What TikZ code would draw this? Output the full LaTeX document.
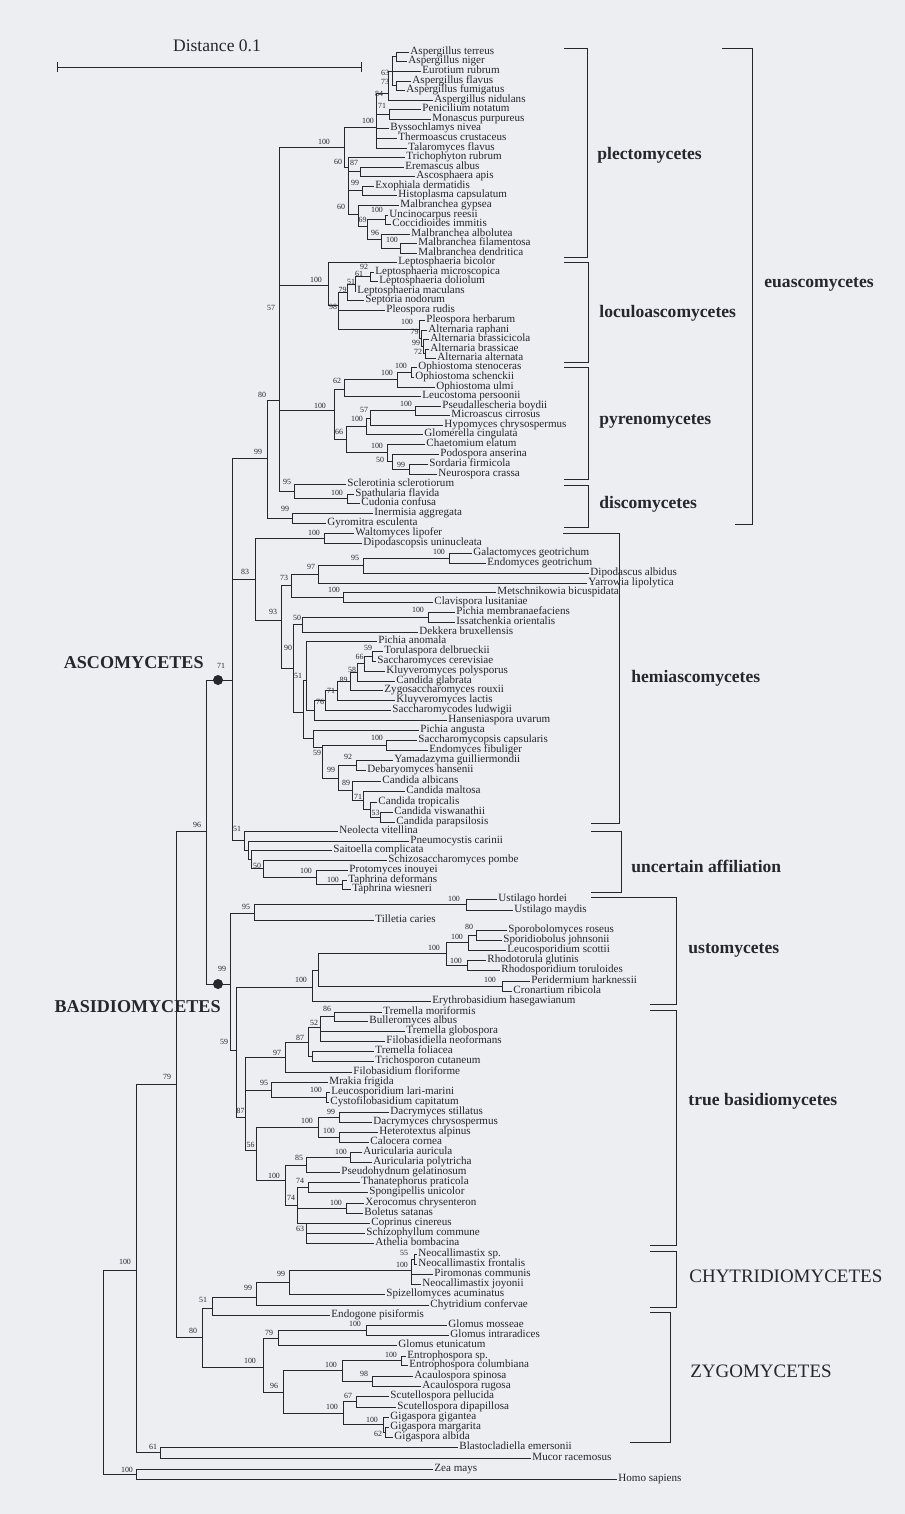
\documentclass[tikz,border=0pt]{standalone}
\usepackage{fontspec}
\setmainfont{Liberation Serif}
\usepackage{tikz}
\definecolor{paper}{RGB}{236,238,242}
\definecolor{ink}{RGB}{38,38,44}

\begin{document}
\begin{tikzpicture}[x=0.02cm,y=-0.02cm,color=ink,line width=0.45pt,
  leaf/.style={anchor=west,inner sep=0.6pt,text height=4.4pt,text depth=1.3pt,font=\fontsize{6.3}{7}\selectfont},
  boot/.style={inner sep=0.3pt,font=\fontsize{4.5}{5}\selectfont},
  grp/.style={anchor=west,inner sep=0pt,font=\fontsize{10}{12}\selectfont\bfseries},
  capgrp/.style={anchor=west,inner sep=0pt,font=\fontsize{10.8}{13}\selectfont},
  phyl/.style={anchor=east,inner sep=0pt,font=\fontsize{10.3}{12}\selectfont\bfseries},
  bigdot/.style={circle,fill,inner sep=0pt,minimum size=0.2cm}
  ]
\fill[paper] (0,0) rectangle (905,1514);
\useasboundingbox (0,0) rectangle (905,1514);

% scale bar
\coordinate (sbl) at (57,67);
\coordinate (sbr) at (362,67);
\draw[|-|] (sbl) -- (sbr);
\node[font=\fontsize{10}{12}\selectfont] (dist) at (217,46) {Distance 0.1};

% ---------------- plectomycetes
\node[leaf] (terreus) at (409,52) {Aspergillus terreus};
\node[leaf] (niger) at (407,61) {Aspergillus niger};
\node[leaf] (eurotium) at (421,71) {Eurotium rubrum};
\node[leaf] (flavus) at (411,81) {Aspergillus flavus};
\node[leaf] (fumigatus) at (405,90) {Aspergillus fumigatus};
\node[leaf] (nidulans) at (433,100) {Aspergillus nidulans};
\node[leaf] (penicil) at (421,109) {Penicilium notatum};
\node[leaf] (monascus) at (431,119) {Monascus purpureus};
\node[leaf] (bysso) at (389,128) {Byssochlamys nivea};
\node[leaf] (thermo) at (397,138) {Thermoascus crustaceus};
\node[leaf] (talaro) at (407,148) {Talaromyces flavus};
\node[leaf] (tricho) at (405,157) {Trichophyton rubrum};
\node[leaf] (eremasc) at (404,167) {Eremascus albus};
\node[leaf] (ascosph) at (415,176) {Ascosphaera apis};
\node[leaf] (exoph) at (374,186) {Exophiala dermatidis};
\node[leaf] (histo) at (397,195) {Histoplasma capsulatum};
\node[leaf] (malgyp) at (399,205) {Malbranchea gypsea};
\node[leaf] (uncino) at (388,215) {Uncinocarpus reesii};
\node[leaf] (coccid) at (391,224) {Coccidioides immitis};
\node[leaf] (malalb) at (410,234) {Malbranchea albolutea};
\node[leaf] (malfil) at (417,243) {Malbranchea filamentosa};
\node[leaf] (malden) at (417,253) {Malbranchea dendritica};

\coordinate (nTN) at (396,56.5);
\coordinate (n73) at (396,85.5);
\coordinate (n63) at (392,71);
\coordinate (n84) at (388,93);
\coordinate (n71P) at (389,114);
\coordinate (n100a) at (376,127);
\coordinate (n87E) at (360,171.5);
\coordinate (n99E) at (362,190.5);
\coordinate (nUC) at (385,219.5);
\coordinate (n100M) at (400,248);
\coordinate (n96M) at (381,239);
\coordinate (n69) at (367,226);
\coordinate (n60b) at (358,214);
\coordinate (n60a) at (348,167);
\coordinate (n100b) at (344,147);

\draw (nTN) |- (terreus) (nTN) |- (niger);
\draw (n73) |- (flavus) (n73) |- (fumigatus);
\draw (n63) |- (nTN) (n63) |- (eurotium) (n63) |- (n73);
\draw (n84) |- (n63) (n84) |- (nidulans);
\draw (n71P) |- (penicil) (n71P) |- (monascus);
\draw (n100a) |- (n84) (n100a) |- (n71P) (n100a) |- (bysso) (n100a) |- (thermo) (n100a) |- (talaro);
\draw (n87E) |- (eremasc) (n87E) |- (ascosph);
\draw (n99E) |- (exoph) (n99E) |- (histo);
\draw (nUC) |- (uncino) (nUC) |- (coccid);
\draw (n100M) |- (malfil) (n100M) |- (malden);
\draw (n96M) |- (malalb) (n96M) |- (n100M);
\draw (n69) |- (nUC) (n69) |- (n96M);
\draw (n60b) |- (malgyp) (n60b) |- (n69);
\draw (n60a) |- (tricho) (n60a) |- (n87E) (n60a) |- (n99E) (n60a) |- (n60b);
\draw (n100b) |- (n100a) (n100b) |- (n60a);

\node[boot] (bs1) at (385,73) {63};
\node[boot] (bs2) at (385,82) {73};
\node[boot] (bs3) at (379,94) {84};
\node[boot] (bs4) at (382,106) {71};
\node[boot] (bs5) at (368,121) {100};
\node[boot] (bs6) at (324,142) {100};
\node[boot] (bs7) at (338,162) {60};
\node[boot] (bs8) at (354,163) {87};
\node[boot] (bs9) at (355,183) {99};
\node[boot] (bs10) at (341,207) {60};
\node[boot] (bs11) at (377,210) {100};
\node[boot] (bs12) at (362.5,220) {69};
\node[boot] (bs13) at (375,233) {96};
\node[boot] (bs14) at (392,240) {100};

% ---------------- loculoascomycetes
\node[leaf] (bicolor) at (397,262) {Leptosphaeria bicolor};
\node[leaf] (microsc) at (374,272) {Leptosphaeria microscopica};
\node[leaf] (dolio) at (378,281) {Leptosphaeria doliolum};
\node[leaf] (macul) at (356,291) {Leptosphaeria maculans};
\node[leaf] (septoria) at (364,300) {Septoria nodorum};
\node[leaf] (prudis) at (385,310) {Pleospora rudis};
\node[leaf] (pherb) at (425,320) {Pleospora herbarum};
\node[leaf] (araph) at (427,330) {Alternaria raphani};
\node[leaf] (abrcola) at (429,339) {Alternaria brassicicola};
\node[leaf] (abrcae) at (429,349) {Alternaria brassicae};
\node[leaf] (aalt) at (436,358) {Alternaria alternata};

\coordinate (n92) at (370,276.5);
\coordinate (n51L) at (355,284);
\coordinate (n79L) at (347,292);
\coordinate (n72) at (425,353.5);
\coordinate (n99Al) at (423,346);
\coordinate (n79Al) at (421,338);
\coordinate (n100Al) at (419,329);
\coordinate (n98) at (338,305);
\coordinate (nLoc) at (328,285);

\draw (n92) |- (microsc) (n92) |- (dolio);
\draw (n51L) |- (n92) (n51L) |- (macul);
\draw (n79L) |- (n51L) (n79L) |- (septoria);
\draw (n72) |- (abrcae) (n72) |- (aalt);
\draw (n99Al) |- (abrcola) (n99Al) |- (n72);
\draw (n79Al) |- (araph) (n79Al) |- (n99Al);
\draw (n100Al) |- (pherb) (n100Al) |- (n79Al);
\draw (n98) |- (n79L) (n98) |- (prudis) (n98) |- (n100Al);
\draw (nLoc) |- (bicolor) (nLoc) |- (n98);

\node[boot] (bs15) at (364,267) {92};
\node[boot] (bs16) at (359,274) {61};
\node[boot] (bs17) at (351,282) {51};
\node[boot] (bs18) at (342.5,290) {79};
\node[boot] (bs19) at (333,307) {98};
\node[boot] (bs20) at (316,280) {100};
\node[boot] (bs21) at (407,322) {100};
\node[boot] (bs22) at (414.5,332) {79};
\node[boot] (bs23) at (416,343) {99};
\node[boot] (bs24) at (418,352) {72};

% ---------------- pyrenomycetes
\node[leaf] (ostenoc) at (417,367) {Ophiostoma stenoceras};
\node[leaf] (oschenck) at (414,377) {Ophiostoma schenckii};
\node[leaf] (oulmi) at (435,387) {Ophiostoma ulmi};
\node[leaf] (leucost) at (421,396) {Leucostoma persoonii};
\node[leaf] (pseudall) at (441,406) {Pseudallescheria boydii};
\node[leaf] (microasc) at (450,415) {Microascus cirrosus};
\node[leaf] (hypomyc) at (443,425) {Hypomyces chrysospermus};
\node[leaf] (glomer) at (423,434) {Glomerella cingulata};
\node[leaf] (chaetom) at (425,444) {Chaetomium elatum};
\node[leaf] (podosp) at (439,454) {Podospora anserina};
\node[leaf] (sordaria) at (428,464) {Sordaria firmicola};
\node[leaf] (neurosp) at (437,474) {Neurospora crassa};

\coordinate (n100O1) at (411,372);
\coordinate (n100O2) at (397,379);
\coordinate (n62) at (344,389);
\coordinate (n100PM) at (415,410.5);
\coordinate (n57P) at (370,418);
\coordinate (n100G) at (366,426);
\coordinate (n99S) at (409,469);
\coordinate (n50) at (392,461);
\coordinate (n100Ch) at (387,452);
\coordinate (n66) at (346,439);
\coordinate (nPyr) at (334,410);

\draw (n100O1) |- (ostenoc) (n100O1) |- (oschenck);
\draw (n100O2) |- (n100O1) (n100O2) |- (oulmi);
\draw (n62) |- (n100O2) (n62) |- (leucost);
\draw (n100PM) |- (pseudall) (n100PM) |- (microasc);
\draw (n57P) |- (n100PM) (n57P) |- (hypomyc);
\draw (n100G) |- (n57P) (n100G) |- (glomer);
\draw (n99S) |- (sordaria) (n99S) |- (neurosp);
\draw (n50) |- (podosp) (n50) |- (n99S);
\draw (n100Ch) |- (chaetom) (n100Ch) |- (n50);
\draw (n66) |- (n100G) (n66) |- (n100Ch);
\draw (nPyr) |- (n62) (nPyr) |- (n66);

\node[boot] (bs25) at (401,366) {100};
\node[boot] (bs26) at (387,373) {100};
\node[boot] (bs27) at (337,381) {62};
\node[boot] (bs28) at (320,406) {100};
\node[boot] (bs29) at (406,404) {100};
\node[boot] (bs30) at (364,410) {57};
\node[boot] (bs31) at (357,419) {100};
\node[boot] (bs32) at (339,432) {66};
\node[boot] (bs33) at (377,446) {100};
\node[boot] (bs34) at (380,460) {50};
\node[boot] (bs35) at (401,465) {99};

% ---------------- discomycetes
\node[leaf] (sclerot) at (346,484) {Sclerotinia sclerotiorum};
\node[leaf] (spathul) at (354,494) {Spathularia flavida};
\node[leaf] (cudonia) at (360,503) {Cudonia confusa};
\node[leaf] (inermis) at (373,513) {Inermisia aggregata};
\node[leaf] (gyromitra) at (326,523) {Gyromitra esculenta};

\coordinate (n100S) at (347,498.5);
\coordinate (n95S) at (294,491);
\coordinate (n99I) at (292,518);
\coordinate (nE1) at (279,400);
\coordinate (nE2) at (267,458);

\draw (n100S) |- (spathul) (n100S) |- (cudonia);
\draw (n95S) |- (sclerot) (n95S) |- (n100S);
\draw (n99I) |- (inermis) (n99I) |- (gyromitra);
\draw (nE1) |- (n100b) (nE1) |- (nLoc) (nE1) |- (nPyr) (nE1) |- (n95S);
\draw (nE2) |- (nE1) (nE2) |- (n99I);

\node[boot] (bs36) at (287,482) {95};
\node[boot] (bs37) at (337,493) {100};
\node[boot] (bs38) at (285,509) {99};
\node[boot] (bs39) at (271,308) {57};
\node[boot] (bs40) at (262,395) {80};
\node[boot] (bs41) at (258,452) {99};

% ---------------- hemiascomycetes
\node[leaf] (walto) at (354,533) {Waltomyces lipofer};
\node[leaf] (dipopsis) at (362,543) {Dipodascopsis uninucleata};
\node[leaf] (galacto) at (472,553) {Galactomyces geotrichum};
\node[leaf] (endogeo) at (486,563) {Endomyces geotrichum};
\node[leaf] (dipodasc) at (589,573) {Dipodascus albidus};
\node[leaf] (yarrowia) at (587,583) {Yarrowia lipolytica};
\node[leaf] (metsch) at (496,592) {Metschnikowia bicuspidata};
\node[leaf] (clavis) at (433,602) {Clavispora lusitaniae};
\node[leaf] (pmembr) at (455,612) {Pichia membranaefaciens};
\node[leaf] (issatch) at (455,622) {Issatchenkia orientalis};
\node[leaf] (dekkera) at (418,632) {Dekkera bruxellensis};
\node[leaf] (panomala) at (377,641) {Pichia anomala};
\node[leaf] (torulasp) at (383,651) {Torulaspora delbrueckii};
\node[leaf] (scerev) at (376,661) {Saccharomyces cerevisiae};
\node[leaf] (kpoly) at (385,671) {Kluyveromyces polysporus};
\node[leaf] (cglab) at (395,681) {Candida glabrata};
\node[leaf] (zygo) at (383,690) {Zygosaccharomyces rouxii};
\node[leaf] (klactis) at (395,700) {Kluyveromyces lactis};
\node[leaf] (saccodes) at (391,710) {Saccharomycodes ludwigii};
\node[leaf] (hansen) at (447,720) {Hanseniaspora uvarum};
\node[leaf] (pangusta) at (419,730) {Pichia angusta};
\node[leaf] (saccopsis) at (417,740) {Saccharomycopsis capsularis};
\node[leaf] (efibul) at (428,750) {Endomyces fibuliger};
\node[leaf] (yamada) at (393,760) {Yamadazyma guilliermondii};
\node[leaf] (debaryo) at (366,770) {Debaryomyces hansenii};
\node[leaf] (calbic) at (381,781) {Candida albicans};
\node[leaf] (cmaltosa) at (405,791) {Candida maltosa};
\node[leaf] (ctropic) at (377,802) {Candida tropicalis};
\node[leaf] (cviswan) at (393,812) {Candida viswanathii};
\node[leaf] (cparaps) at (395,822) {Candida parapsilosis};

\coordinate (nW100) at (324,538);
\coordinate (n100Ga) at (449,558);
\coordinate (n95H) at (363,565.5);
\coordinate (n97H) at (318,574);
\coordinate (n100Me) at (343,597);
\coordinate (n73H) at (291,585);
\coordinate (n100Pi) at (428,617);
\coordinate (n50H) at (302,624.5);
\coordinate (nA59) at (372,656);
\coordinate (nB66) at (364,663.5);
\coordinate (nC58) at (357,672);
\coordinate (nD89) at (350,681);
\coordinate (nE71) at (337,690);
\coordinate (nF76) at (325,700);
\coordinate (nG) at (314,710);
\coordinate (n51H) at (306,680);
\coordinate (n53) at (380,817);
\coordinate (nTr) at (370,809.5);
\coordinate (n71C) at (363,800);
\coordinate (n89C) at (352,790.5);
\coordinate (n92Y) at (356,765);
\coordinate (n99C) at (338,778);
\coordinate (n100Sa) at (386,745);
\coordinate (n59C) at (322,747);
\coordinate (nCTG) at (313,738);
\coordinate (nY) at (303,712);
\coordinate (n90) at (293,668);
\coordinate (n93) at (281,620);
\coordinate (n83) at (255,579);

\draw (nW100) |- (walto) (nW100) |- (dipopsis);
\draw (n100Ga) |- (galacto) (n100Ga) |- (endogeo);
\draw (n95H) |- (n100Ga) (n95H) |- (dipodasc);
\draw (n97H) |- (n95H) (n97H) |- (yarrowia);
\draw (n100Me) |- (metsch) (n100Me) |- (clavis);
\draw (n73H) |- (n97H) (n73H) |- (n100Me);
\draw (n100Pi) |- (pmembr) (n100Pi) |- (issatch);
\draw (n50H) |- (n100Pi) (n50H) |- (dekkera);
\draw (nA59) |- (torulasp) (nA59) |- (scerev);
\draw (nB66) |- (nA59) (nB66) |- (kpoly);
\draw (nC58) |- (nB66) (nC58) |- (cglab);
\draw (nD89) |- (nC58) (nD89) |- (zygo);
\draw (nE71) |- (nD89) (nE71) |- (klactis);
\draw (nF76) |- (nE71) (nF76) |- (saccodes);
\draw (nG) |- (nF76) (nG) |- (hansen);
\draw (n51H) |- (panomala) (n51H) |- (nG);
\draw (n53) |- (cviswan) (n53) |- (cparaps);
\draw (nTr) |- (ctropic) (nTr) |- (n53);
\draw (n71C) |- (cmaltosa) (n71C) |- (nTr);
\draw (n89C) |- (calbic) (n89C) |- (n71C);
\draw (n92Y) |- (yamada) (n92Y) |- (debaryo);
\draw (n99C) |- (n92Y) (n99C) |- (n89C);
\draw (n100Sa) |- (saccopsis) (n100Sa) |- (efibul);
\draw (n59C) |- (n100Sa) (n59C) |- (n99C);
\draw (nCTG) |- (pangusta) (nCTG) |- (n59C);
\draw (nY) |- (n51H) (nY) |- (nCTG);
\draw (n90) |- (n50H) (n90) |- (nY);
\draw (n93) |- (n73H) (n93) |- (n90);
\draw (n83) |- (nW100) (n83) |- (n93);

\node[boot] (bs42) at (314,533) {100};
\node[boot] (bs43) at (245,572) {83};
\node[boot] (bs44) at (439,552) {100};
\node[boot] (bs45) at (355,558) {95};
\node[boot] (bs46) at (311,567) {97};
\node[boot] (bs47) at (284,578) {73};
\node[boot] (bs48) at (334,590) {100};
\node[boot] (bs49) at (273,612) {93};
\node[boot] (bs50) at (297,618) {50};
\node[boot] (bs51) at (418,610) {100};
\node[boot] (bs52) at (288,648) {90};
\node[boot] (bs53) at (368,648) {59};
\node[boot] (bs54) at (359.5,657) {66};
\node[boot] (bs55) at (352,670) {58};
\node[boot] (bs56) at (343.5,680) {89};
\node[boot] (bs57) at (331,691) {71};
\node[boot] (bs58) at (320,702) {76};
\node[boot] (bs59) at (298,676) {51};
\node[boot] (bs60) at (377,738) {100};
\node[boot] (bs61) at (317,753) {59};
\node[boot] (bs62) at (348,757) {92};
\node[boot] (bs63) at (331,770) {99};
\node[boot] (bs64) at (346,783) {89};
\node[boot] (bs65) at (358,797) {71};
\node[boot] (bs66) at (375.5,813) {53};

% ---------------- uncertain affiliation
\node[leaf] (neolecta) at (338,831) {Neolecta vitellina};
\node[leaf] (pneumo) at (409,841) {Pneumocystis carinii};
\node[leaf] (saitoella) at (332,850) {Saitoella complicata};
\node[leaf] (schizo) at (387,860) {Schizosaccharomyces pombe};
\node[leaf] (protomyc) at (348,870) {Protomyces inouyei};
\node[leaf] (tdeform) at (347,880) {Taphrina deformans};
\node[leaf] (twiesn) at (351,889) {Taphrina wiesneri};

\coordinate (n100Ta) at (342,884.5);
\coordinate (n100Pr) at (316,877);
\coordinate (n50U) at (263,868.5);
\coordinate (nS) at (251,859);
\coordinate (nP) at (248,850);
\coordinate (n51) at (244,840.5);
\coordinate (n71) at (232,680);

\draw (n100Ta) |- (tdeform) (n100Ta) |- (twiesn);
\draw (n100Pr) |- (protomyc) (n100Pr) |- (n100Ta);
\draw (n50U) |- (schizo) (n50U) |- (n100Pr);
\draw (nS) |- (saitoella) (nS) |- (n50U);
\draw (nP) |- (pneumo) (nP) |- (nS);
\draw (n51) |- (neolecta) (n51) |- (nP);
\draw (n71) |- (nE2) (n71) |- (n83) (n71) |- (n51);

\node[boot] (bs67) at (237,829) {51};
\node[boot] (bs68) at (257,866) {50};
\node[boot] (bs69) at (306,871) {100};
\node[boot] (bs70) at (333,880) {100};

% ---------------- ustomycetes
\node[leaf] (uhordei) at (497,899) {Ustilago hordei};
\node[leaf] (umaydis) at (513,910) {Ustilago maydis};
\node[leaf] (tilletia) at (374,920) {Tilletia caries};
\node[leaf] (sporobol) at (507,930) {Sporobolomyces roseus};
\node[leaf] (sporidio) at (502,940) {Sporidiobolus johnsonii};
\node[leaf] (lscottii) at (506,950) {Leucosporidium scottii};
\node[leaf] (rhodotor) at (486,960) {Rhodotorula glutinis};
\node[leaf] (rhodospor) at (500,970) {Rhodosporidium toruloides};
\node[leaf] (peridern) at (530,981) {Peridermium harknessii};
\node[leaf] (cronart) at (512,991) {Cronartium ribicola};
\node[leaf] (erythro) at (431,1001) {Erythrobasidium hasegawianum};

\coordinate (n100Us) at (466,904.5);
\coordinate (n95U) at (254,913);
\coordinate (n80S) at (476,935);
\coordinate (n100Le) at (468,942.5);
\coordinate (n100Rh) at (467,965);
\coordinate (n100R) at (446,953);
\coordinate (n100Pe) at (502,986);
\coordinate (nUR) at (318,970);
\coordinate (n100U) at (312,987);

\draw (n100Us) |- (uhordei) (n100Us) |- (umaydis);
\draw (n95U) |- (n100Us) (n95U) |- (tilletia);
\draw (n80S) |- (sporobol) (n80S) |- (sporidio);
\draw (n100Le) |- (n80S) (n100Le) |- (lscottii);
\draw (n100Rh) |- (rhodotor) (n100Rh) |- (rhodospor);
\draw (n100R) |- (n100Le) (n100R) |- (n100Rh);
\draw (n100Pe) |- (peridern) (n100Pe) |- (cronart);
\draw (nUR) |- (n100R) (nUR) |- (n100Pe);
\draw (n100U) |- (nUR) (n100U) |- (erythro);

\node[boot] (bs71) at (454,899) {100};
\node[boot] (bs72) at (246,907) {95};
\node[boot] (bs73) at (469,927) {80};
\node[boot] (bs74) at (457,937) {100};
\node[boot] (bs75) at (434,948) {100};
\node[boot] (bs76) at (456,961) {100};
\node[boot] (bs77) at (490,980) {100};
\node[boot] (bs78) at (301,980) {100};

% ---------------- true basidiomycetes
\node[leaf] (tmorif) at (382,1012) {Tremella moriformis};
\node[leaf] (bullero) at (368,1021) {Bulleromyces albus};
\node[leaf] (tglobo) at (405,1031) {Tremella globospora};
\node[leaf] (filobella) at (385,1041) {Filobasidiella neoformans};
\node[leaf] (tfoliac) at (374,1051) {Tremella foliacea};
\node[leaf] (trichosp) at (374,1061) {Trichosporon cutaneum};
\node[leaf] (filobas) at (352,1072) {Filobasidium floriforme};
\node[leaf] (mrakia) at (328,1082) {Mrakia frigida};
\node[leaf] (llari) at (330,1092) {Leucosporidium lari-marini};
\node[leaf] (cystofilo) at (329,1102) {Cystofilobasidium capitatum};
\node[leaf] (dstill) at (389,1112) {Dacrymyces stillatus};
\node[leaf] (dchryso) at (372,1122) {Dacrymyces chrysospermus};
\node[leaf] (heterot) at (378,1132) {Heterotextus alpinus};
\node[leaf] (calocera) at (369,1142) {Calocera cornea};
\node[leaf] (aauric) at (362,1152) {Auricularia auricula};
\node[leaf] (apolyt) at (372,1162) {Auricularia polytricha};
\node[leaf] (pseudohyd) at (340,1172) {Pseudohydnum gelatinosum};
\node[leaf] (thanat) at (360,1182) {Thanatephorus praticola};
\node[leaf] (spongip) at (368,1192) {Spongipellis unicolor};
\node[leaf] (xeroc) at (364,1203) {Xerocomus chrysenteron};
\node[leaf] (boletus) at (363,1213) {Boletus satanas};
\node[leaf] (coprinus) at (370,1223) {Coprinus cinereus};
\node[leaf] (schizoph) at (365,1233) {Schizophyllum commune};
\node[leaf] (athelia) at (374,1243) {Athelia bombacina};

\coordinate (n86) at (334,1016.5);
\coordinate (n52) at (320,1027);
\coordinate (nTF) at (312,1056);
\coordinate (n87T) at (308,1042);
\coordinate (n97T) at (285,1057);
\coordinate (n100Cy) at (326,1097);
\coordinate (n95M) at (271,1090);
\coordinate (n99D) at (339,1117);
\coordinate (n100He) at (339,1137);
\coordinate (n100D) at (318,1127);
\coordinate (n100Au) at (350,1157);
\coordinate (n85) at (306,1165);
\coordinate (n74a) at (308,1187);
\coordinate (n100X) at (346,1208);
\coordinate (n63B) at (306,1223);
\coordinate (n74b) at (297,1205);
\coordinate (n100A) at (285,1180);
\coordinate (n56) at (256,1150);
\coordinate (n87) at (245,1117);
\coordinate (n59) at (236,1050);
\coordinate (n99B) at (230,984);

\draw (n86) |- (tmorif) (n86) |- (bullero);
\draw (n52) |- (n86) (n52) |- (tglobo) (n52) |- (filobella);
\draw (nTF) |- (tfoliac) (nTF) |- (trichosp);
\draw (n87T) |- (n52) (n87T) |- (nTF);
\draw (n97T) |- (n87T) (n97T) |- (filobas);
\draw (n100Cy) |- (llari) (n100Cy) |- (cystofilo);
\draw (n95M) |- (mrakia) (n95M) |- (n100Cy);
\draw (n99D) |- (dstill) (n99D) |- (dchryso);
\draw (n100He) |- (heterot) (n100He) |- (calocera);
\draw (n100D) |- (n99D) (n100D) |- (n100He);
\draw (n100Au) |- (aauric) (n100Au) |- (apolyt);
\draw (n85) |- (n100Au) (n85) |- (pseudohyd);
\draw (n74a) |- (thanat) (n74a) |- (spongip);
\draw (n100X) |- (xeroc) (n100X) |- (boletus);
\draw (n63B) |- (coprinus) (n63B) |- (schizoph) (n63B) |- (athelia);
\draw (n74b) |- (n74a) (n74b) |- (n100X) (n74b) |- (n63B);
\draw (n100A) |- (n85) (n100A) |- (n74b);
\draw (n56) |- (n100D) (n56) |- (n100A);
\draw (n87) |- (n97T) (n87) |- (n95M) (n87) |- (n56);
\draw (n59) |- (n100U) (n59) |- (n87);
\draw (n99B) |- (n95U) (n99B) |- (n59);

\node[boot] (bs79) at (327,1009) {86};
\node[boot] (bs80) at (314,1023) {52};
\node[boot] (bs81) at (300,1038) {87};
\node[boot] (bs82) at (277,1053) {97};
\node[boot] (bs83) at (264,1083) {95};
\node[boot] (bs84) at (316,1090) {100};
\node[boot] (bs85) at (224,1042) {59};
\node[boot] (bs86) at (240.5,1111) {87};
\node[boot] (bs87) at (331,1112) {99};
\node[boot] (bs88) at (307,1121) {100};
\node[boot] (bs89) at (329,1131) {100};
\node[boot] (bs90) at (250.5,1145) {56};
\node[boot] (bs91) at (341,1152) {100};
\node[boot] (bs92) at (299,1158) {85};
\node[boot] (bs93) at (274,1176) {100};
\node[boot] (bs94) at (300,1181) {74};
\node[boot] (bs95) at (291,1198) {74};
\node[boot] (bs96) at (336,1203) {100};
\node[boot] (bs97) at (300,1229) {63};

% ---------------- chytridiomycetes, zygomycetes, outgroups
\node[leaf] (neosp) at (417,1254) {Neocallimastix sp.};
\node[leaf] (neofront) at (417,1264) {Neocallimastix frontalis};
\node[leaf] (piromonas) at (433,1274) {Piromonas communis};
\node[leaf] (neojoy) at (421,1284) {Neocallimastix joyonii};
\node[leaf] (spizello) at (385,1294) {Spizellomyces acuminatus};
\node[leaf] (chytrid) at (429,1305) {Chytridium confervae};
\node[leaf] (endogone) at (330,1315) {Endogone pisiformis};
\node[leaf] (gmosseae) at (447,1325) {Glomus mosseae};
\node[leaf] (gintra) at (449,1335) {Glomus intraradices};
\node[leaf] (getunic) at (397,1345) {Glomus etunicatum};
\node[leaf] (entrosp) at (406,1356) {Entrophospora sp.};
\node[leaf] (entrocol) at (408,1365) {Entrophospora columbiana};
\node[leaf] (acspin) at (413,1376) {Acaulospora spinosa};
\node[leaf] (acrug) at (421,1386) {Acaulospora rugosa};
\node[leaf] (scpell) at (389,1396) {Scutellospora pellucida};
\node[leaf] (scdipap) at (396,1407) {Scutellospora dipapillosa};
\node[leaf] (gigig) at (389,1417) {Gigaspora gigantea};
\node[leaf] (gimarg) at (389,1427) {Gigaspora margarita};
\node[leaf] (gialb) at (393,1437) {Gigaspora albida};
\node[leaf] (blasto) at (458,1447) {Blastocladiella emersonii};
\node[leaf] (mucor) at (531,1458) {Mucor racemosus};
\node[leaf] (zea) at (433,1469) {Zea mays};
\node[leaf] (homo) at (617,1479) {Homo sapiens};

\coordinate (n55) at (414,1259);
\coordinate (n100N) at (411,1270);
\coordinate (n99Sp) at (289,1282);
\coordinate (n99Ch) at (256,1297);
\coordinate (n51Z) at (212,1308);
\coordinate (n100G2) at (366,1330);
\coordinate (n79Z) at (278,1338);
\coordinate (n100E) at (401,1360.5);
\coordinate (n98A) at (372,1381);
\coordinate (n100EA) at (342,1370);
\coordinate (n67) at (356,1401.5);
\coordinate (n62G) at (385,1432);
\coordinate (n100Gi) at (383,1424);
\coordinate (n100SG) at (343,1413);
\coordinate (n96Z) at (283,1392);
\coordinate (n100Z) at (263,1367);
\coordinate (n80) at (202,1337);
\coordinate (n96) at (206,831);
\coordinate (n79) at (176,1084);
\coordinate (n61) at (160,1452);
\coordinate (nB) at (136,1270);
\coordinate (nZH) at (136,1474);
\coordinate (root) at (103,1372);

\draw (n55) |- (neosp) (n55) |- (neofront);
\draw (n100N) |- (n55) (n100N) |- (piromonas) (n100N) |- (neojoy);
\draw (n99Sp) |- (n100N) (n99Sp) |- (spizello);
\draw (n99Ch) |- (n99Sp) (n99Ch) |- (chytrid);
\draw (n51Z) |- (n99Ch) (n51Z) |- (endogone);
\draw (n100G2) |- (gmosseae) (n100G2) |- (gintra);
\draw (n79Z) |- (n100G2) (n79Z) |- (getunic);
\draw (n100E) |- (entrosp) (n100E) |- (entrocol);
\draw (n98A) |- (acspin) (n98A) |- (acrug);
\draw (n100EA) |- (n100E) (n100EA) |- (n98A);
\draw (n67) |- (scpell) (n67) |- (scdipap);
\draw (n62G) |- (gimarg) (n62G) |- (gialb);
\draw (n100Gi) |- (gigig) (n100Gi) |- (n62G);
\draw (n100SG) |- (n67) (n100SG) |- (n100Gi);
\draw (n96Z) |- (n100EA) (n96Z) |- (n100SG);
\draw (n100Z) |- (n79Z) (n100Z) |- (n96Z);
\draw (n80) |- (n51Z) (n80) |- (n100Z);
\draw (n96) |- (n71) (n96) |- (n99B);
\draw (n79) |- (n96) (n79) |- (n80);
\draw (n61) |- (blasto) (n61) |- (mucor);
\draw (nB) |- (n79) (nB) |- (n61);
\draw (nZH) |- (zea) (nZH) |- (homo);
\draw (root) |- (nB) (root) |- (nZH);

\node[boot] (bs98) at (404,1253) {55};
\node[boot] (bs99) at (402,1265) {100};
\node[boot] (bs100) at (281,1274) {99};
\node[boot] (bs101) at (248,1288) {99};
\node[boot] (bs102) at (203,1300) {51};
\node[boot] (bs103) at (193,1331) {80};
\node[boot] (bs104) at (355,1324) {100};
\node[boot] (bs105) at (269,1333) {79};
\node[boot] (bs106) at (250,1361) {100};
\node[boot] (bs107) at (391,1355) {100};
\node[boot] (bs108) at (331,1365) {100};
\node[boot] (bs109) at (364,1374) {98};
\node[boot] (bs110) at (274,1386) {96};
\node[boot] (bs111) at (348,1396) {67};
\node[boot] (bs112) at (332,1407) {100};
\node[boot] (bs113) at (372,1420) {100};
\node[boot] (bs114) at (378,1434) {62};
\node[boot] (bs115) at (153,1447) {61};
\node[boot] (bs116) at (127,1470) {100};
\node[boot] (bs117) at (125,1262) {100};
\node[boot] (bs118) at (167,1077) {79};
\node[boot] (bs119) at (197,825) {96};

% the two marked clades
\node[bigdot] (adot) at (218,680) {};
\node[bigdot] (bdot) at (218,984) {};
\node[boot] (bs120) at (221,666) {71};
\node[boot] (bs121) at (222,969) {99};
\node[phyl] (asco) at (204,663) {ASCOMYCETES};
\node[phyl] (basid) at (221,1007) {BASIDIOMYCETES};

% group brackets
\draw (564,48) -| (587,257) -- (564,257);
\draw (564,262) -| (588,362) -- (564,362);
\draw (564,367) -| (588,479) -- (564,479);
\draw (564,485) -| (588,527) -- (564,527);
\draw (722,48) -| (752,524) -- (735,524);
\draw (563,533) -| (619,823) -- (591,823);
\draw (591,831) -| (621,892) -- (591,892);
\draw (591,897) -| (676,1004) -- (650,1004);
\draw (650,1010) -| (676,1245) -- (650,1245);
\draw (650,1251) -| (676,1307) -- (650,1307);
\draw (650,1312) -| (670,1442) -- (630,1442);

\node[grp] (plecto) at (597,155) {plectomycetes};
\node[grp] (loculo) at (599,313) {loculoascomycetes};
\node[grp] (pyreno) at (599,421) {pyrenomycetes};
\node[grp] (disco) at (599,504) {discomycetes};
\node[grp] (euasco) at (764,284) {euascomycetes};
\node[grp] (hemi) at (631,678) {hemiascomycetes};
\node[grp] (uncert) at (631,866) {uncertain affiliation};
\node[grp] (usto) at (688,950) {ustomycetes};
\node[grp] (truebas) at (688,1101) {true basidiomycetes};
\node[capgrp] (chytr) at (689,1276) {CHYTRIDIOMYCETES};
\node[capgrp] (zygomyc) at (690,1371) {ZYGOMYCETES};
\end{tikzpicture}
\end{document}
